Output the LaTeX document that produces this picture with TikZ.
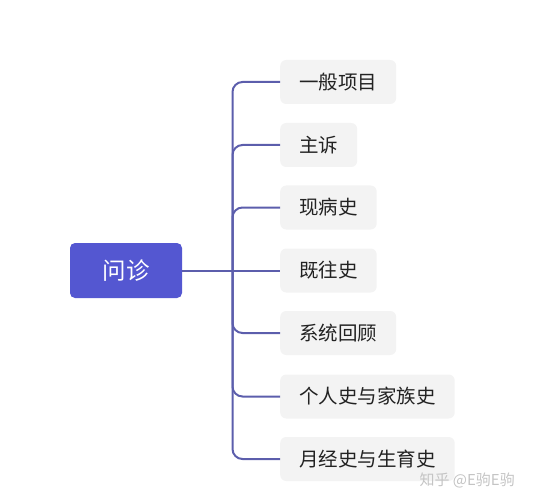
\documentclass[tikz,border=0pt]{standalone}
\usepackage{fontspec}
\setmainfont{Noto Sans CJK SC}
\definecolor{rootfill}{HTML}{5457D1}
\definecolor{conncol}{HTML}{5C5EAC}
\definecolor{childfill}{HTML}{F3F3F3}
\definecolor{childtext}{HTML}{222222}
\definecolor{wmark}{HTML}{C4C4C4}
\begin{document}
\begin{tikzpicture}[x=1pt,y=-1pt,
  rootbox/.style={fill=rootfill, rounded corners=5pt, minimum width=112pt, minimum height=55pt,
    inner sep=0pt, text=white, font=\fontsize{23.5}{26}\selectfont},
  childbox/.style={fill=childfill, rounded corners=6pt, minimum height=44pt, inner xsep=19pt,
    inner ysep=0pt, anchor=west, text=childtext, font=\fontsize{19.5}{22}\selectfont},
  conn/.style={draw=conncol, line width=2pt, rounded corners=10pt},
  watermark/.style={text=wmark, font=\fontsize{15}{17}\selectfont, inner sep=0pt}
]
\useasboundingbox (0,0) rectangle (533,500);
\node[rootbox] (root) at (126,270.5) {问诊};
\node[childbox] (c1) at (280,82) {一般项目};
\node[childbox] (c2) at (280,145) {主诉};
\node[childbox] (c3) at (280,207.5) {现病史};
\node[childbox] (c4) at (280,270.5) {既往史};
\node[childbox] (c5) at (280,333) {系统回顾};
\node[childbox] (c6) at (280,396.5) {个人史与家族史};
\node[childbox] (c7) at (280,459) {月经史与生育史};
\coordinate (trunk) at (232.5,270.5);
\draw[conn] (root.east) -- (c4.west);
\foreach \c in {c1,c2,c3,c5,c6,c7}{
  \draw[conn] (trunk) |- (\c.west);
}
\node[watermark, anchor=east] (wm) at (515,480) {知乎 @E驹E驹};
\end{tikzpicture}
\end{document}
